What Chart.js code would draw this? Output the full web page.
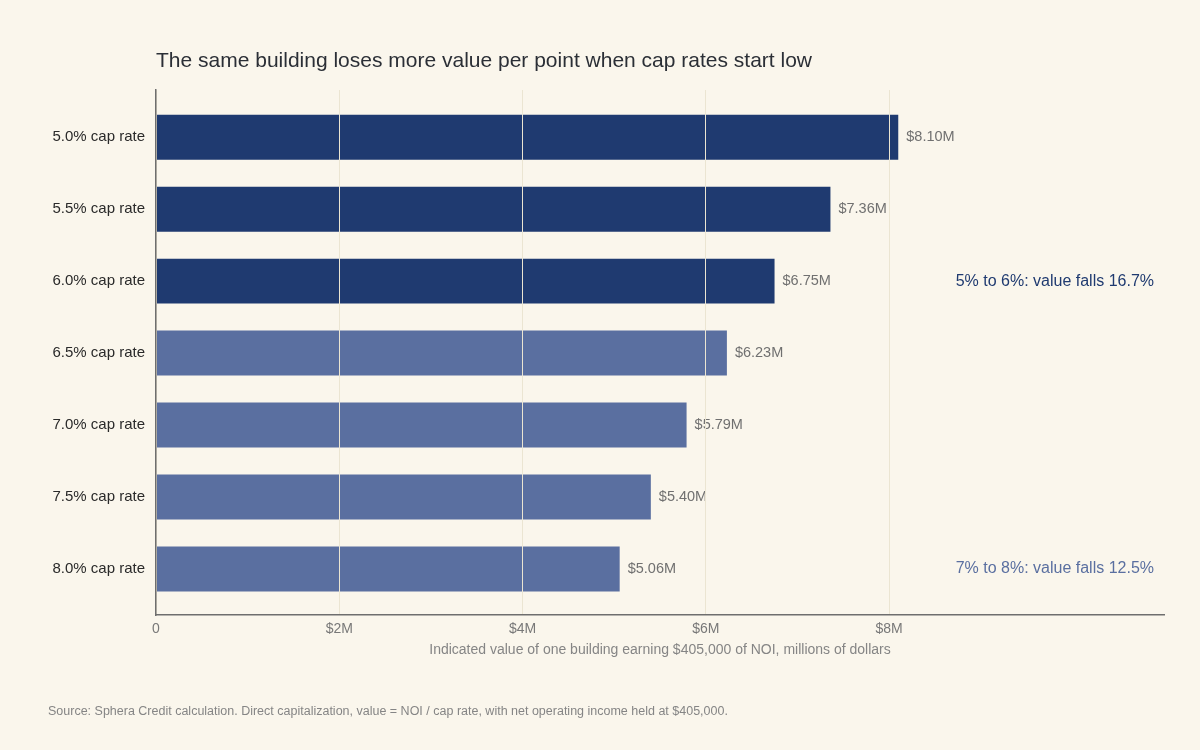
<!DOCTYPE html>
<html>
<head>
<meta charset="utf-8">
<script src="https://cdn.jsdelivr.net/npm/chart.js@4/dist/chart.umd.min.js"></script>
<style>
  html, body { margin: 0; padding: 0; background: #faf6ec; }
  #wrap { width: 1200px; height: 750px; position: relative; }
</style>
</head>
<body>
<div id="wrap"><canvas id="c" width="1200" height="750"></canvas></div>
<script>
const categories = ["5.0% cap rate", "5.5% cap rate", "6.0% cap rate", "6.5% cap rate", "7.0% cap rate", "7.5% cap rate", "8.0% cap rate"];
const values = [8.10, 7.36, 6.75, 6.23, 5.79, 5.40, 5.06];
const valueLabels = ["$8.10M", "$7.36M", "$6.75M", "$6.23M", "$5.79M", "$5.40M", "$5.06M"];
const xTickValues = [0, 2, 4, 6, 8];
const xTickLabels = ["0", "$2M", "$4M", "$6M", "$8M"];
const noteTexts = ["5% to 6%: value falls 16.7%", "7% to 8%: value falls 12.5%"];
const noteRows = [2, 6];
const highlightCount = 3;

const titleText = "The same building loses more value per point when cap rates start low";
const xAxisTitle = "Indicated value of one building earning $405,000 of NOI, millions of dollars";
const sourceText = "Source: Sphera Credit calculation. Direct capitalization, value = NOI / cap rate, with net operating income held at $405,000.";

const DARK = "#1f3a70";
const LIGHT = "#5a6fa0";
const FONT = "'Liberation Sans', Arial, Helvetica, sans-serif";

const textPlugin = {
  id: 'texts',
  afterDatasetsDraw(chart) {
    const ctx = chart.ctx;
    const ca = chart.chartArea;
    const meta = chart.getDatasetMeta(0);
    const ys = chart.scales.y;
    ctx.save();
    ctx.font = "14.5px " + FONT;
    ctx.fillStyle = "#707070";
    ctx.textAlign = "left";
    ctx.textBaseline = "middle";
    meta.data.forEach((bar, i) => {
      ctx.fillText(valueLabels[i], bar.x + 8, bar.y);
    });
    ctx.font = "16px " + FONT;
    ctx.textAlign = "right";
    noteTexts.forEach((t, k) => {
      ctx.fillStyle = noteRows[k] < highlightCount ? DARK : LIGHT;
      ctx.fillText(t, ca.right - 10, ys.getPixelForValue(noteRows[k]));
    });
    ctx.restore();
  },
  afterDraw(chart) {
    const ctx = chart.ctx;
    const ca = chart.chartArea;
    ctx.save();
    ctx.textBaseline = "middle";
    ctx.textAlign = "left";
    ctx.font = "21px " + FONT;
    ctx.fillStyle = "#2b2f36";
    ctx.fillText(titleText, ca.left, 61);
    ctx.font = "14px " + FONT;
    ctx.fillStyle = "#858585";
    ctx.textAlign = "center";
    ctx.fillText(xAxisTitle, (ca.left + ca.right) / 2, 650);
    ctx.font = "12.5px " + FONT;
    ctx.textAlign = "left";
    ctx.fillStyle = "#858585";
    ctx.fillText(sourceText, 48, 712);
    ctx.restore();
  }
};

const bgPlugin = {
  id: 'bg',
  beforeDraw(chart) {
    const ctx = chart.ctx;
    ctx.save();
    ctx.fillStyle = "#faf6ec";
    ctx.fillRect(0, 0, chart.width, chart.height);
    ctx.restore();
  }
};

new Chart(document.getElementById('c'), {
  type: 'bar',
  data: {
    datasets: [{
      data: values.map((v, i) => ({ x: v, y: i })),
      backgroundColor: values.map((v, i) => i < highlightCount ? DARK : LIGHT),
      barPercentage: 0.625,
      categoryPercentage: 1.0,
      borderWidth: 0
    }]
  },
  options: {
    indexAxis: 'y',
    responsive: false,
    animation: false,
    devicePixelRatio: 1,
    layout: { padding: { left: 0, right: 36, top: 90, bottom: 0 } },
    plugins: { legend: { display: false }, tooltip: { enabled: false }, title: { display: false } },
    scales: {
      x: {
        type: 'linear',
        min: 0,
        max: 11,
        afterBuildTicks(scale) { scale.ticks = xTickValues.map(v => ({ value: v })); },
        afterFit(scale) { scale.height = 135; },
        ticks: {
          padding: 6,
          color: "#787878",
          font: { family: FONT, size: 14 },
          callback(value) { const k = xTickValues.indexOf(value); return k >= 0 ? xTickLabels[k] : ''; }
        },
        grid: { color: "#ebe5d2", lineWidth: 1, drawTicks: false, z: 1 },
        border: { display: true, color: "#6e6e6e", width: 1.5, z: 2 }
      },
      y: {
        type: 'linear',
        reverse: true,
        offset: false,
        min: -0.655,
        max: 6.638,
        afterBuildTicks(scale) { scale.ticks = categories.map((c, i) => ({ value: i })); },
        afterFit(scale) { scale.width = 156; },
        ticks: {
          padding: 11,
          color: "#2a2a2a",
          font: { family: FONT, size: 15 },
          callback(value) { return categories[value] !== undefined ? categories[value] : ''; }
        },
        grid: { display: false, drawTicks: false },
        border: { display: true, color: "#6e6e6e", width: 1.5, z: 2 }
      }
    }
  },
  plugins: [bgPlugin, textPlugin]
});
</script>
</body>
</html>
